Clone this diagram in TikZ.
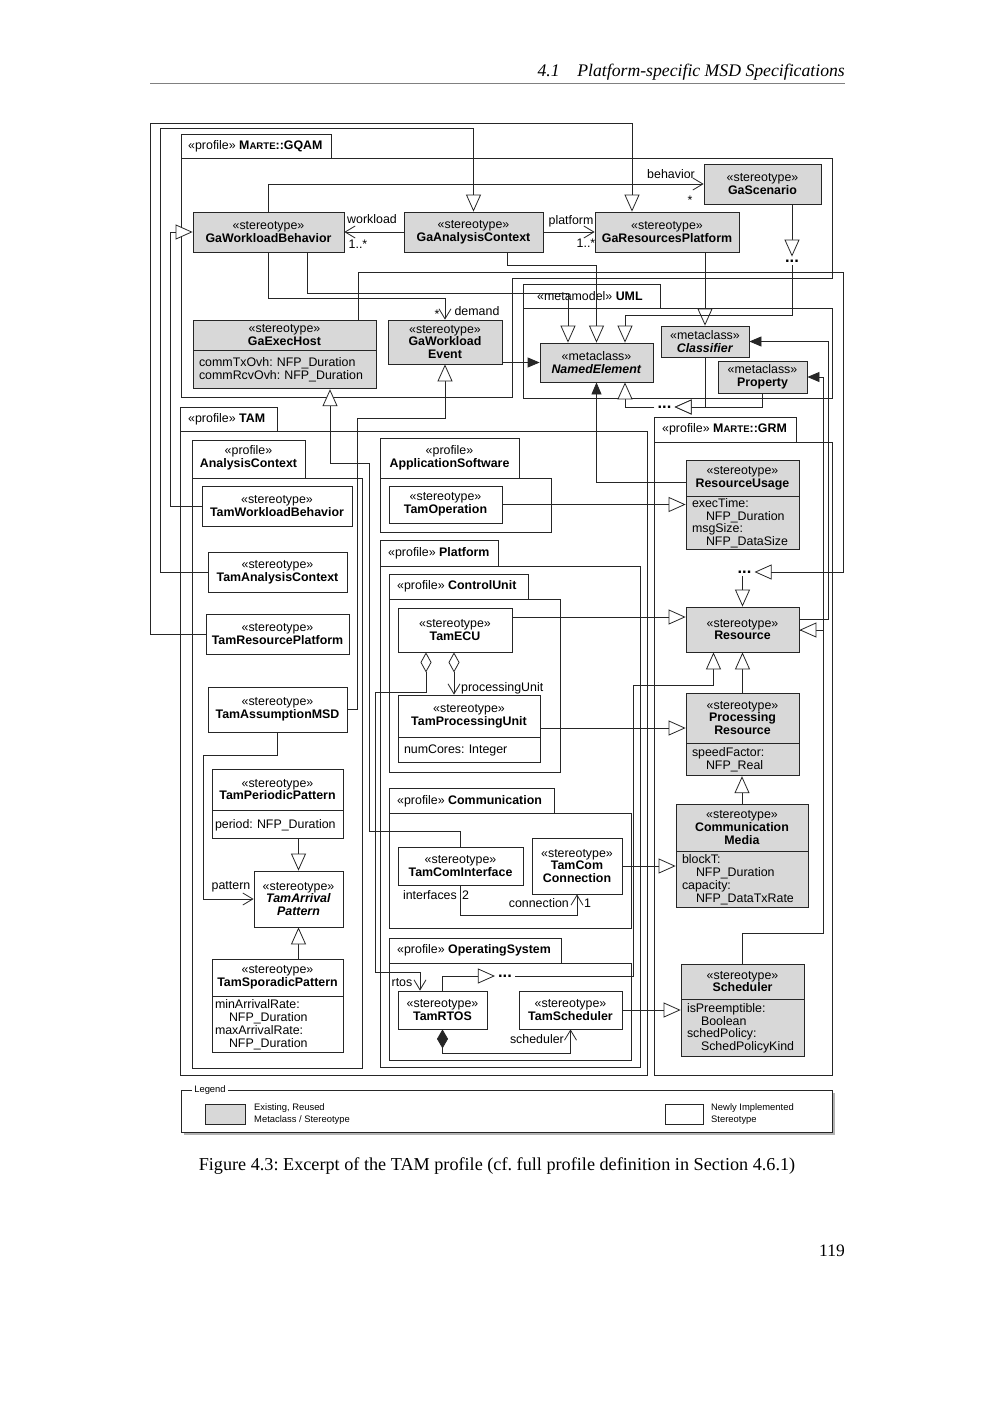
\documentclass[tikz,border=0pt]{standalone}
\usepackage{fontspec}
\setmainfont{Liberation Sans}
\newfontfamily\seriffont{Liberation Serif}
\usetikzlibrary{arrows.meta}
\definecolor{lc}{HTML}{262626}
\definecolor{boxgray}{HTML}{D8D8D8}
\newcommand{\nf}{\fontsize{12.4}{12.8}\selectfont}
\newcommand{\lgf}{\fontsize{9.4}{12}\selectfont}
\newcommand{\stereo}{«stereotype»}
\newcommand{\metac}{«metaclass»}
\newcommand{\prof}{«profile»}
\newcommand{\marte}{M{\fontsize{9.6}{10}\selectfont ARTE}}
\newcommand{\attrind}{\hspace*{14pt}}
\tikzset{
 base/.style={draw=lc, line width=0.8pt, inner sep=0pt, align=center, font=\nf},
 gbox/.style={base, fill=boxgray},
 wbox/.style={base, fill=white},
 attr/.style={draw=lc, line width=0.8pt, inner ysep=0pt, inner xsep=6pt, align=left, font=\nf, anchor=north},
 pkg/.style={draw=lc, line width=0.8pt},
 tabtxt/.style={font=\nf, inner sep=0pt, anchor=west},
 cn/.style={draw=lc, line width=0.8pt},
 gen/.style={cn, -{Triangle[length=17pt,width=15pt,fill=white]}},
 ext/.style={cn, -{Triangle[length=12pt,width=10pt,fill=lc]}},
 nav/.style={cn, -{Straight Barb[length=10pt,width=12pt]}},
 lbl/.style={font=\nf, inner sep=0pt},
 dotn/.style={font=\bfseries\fontsize{16.5}{16}\selectfont, inner sep=3pt},
}
\begin{document}
\frenchspacing
\begin{tikzpicture}[x=1pt,y=-1pt]
\useasboundingbox (0,0) rectangle (1000,1414);
\fill[white] (0,0) rectangle (1000,1414);

% ---------- page header / caption ----------
\node[anchor=base east, inner sep=0pt, font=\seriffont\itshape\fontsize{17.7}{20}\selectfont] (hdr) at (845,76) {4.1\quad Platform-specific MSD Specifications};
\draw[gray, line width=0.8pt] (150,83) -- (845,83);
\node[anchor=base, inner sep=0pt, font=\seriffont\fontsize{18.2}{20}\selectfont] (cap) at (497,1170) {Figure 4.3: Excerpt of the TAM profile (cf.\ full profile definition in Section 4.6.1)};
\node[anchor=base east, inner sep=0pt, font=\seriffont\fontsize{17.5}{20}\selectfont] (pgn) at (845,1256) {119};

% ---------- packages ----------
% GQAM
\draw[pkg] (181,134) rectangle (331,158);
\node[tabtxt] (p-gqam) at (188,146) {\prof\ \textbf{\marte::GQAM}};
\draw[pkg] (181,158) -- (832,158) -- (832,278) -- (512,278) -- (512,397) -- (181,397) -- cycle;
% UML
\draw[pkg] (523,284) rectangle (660,308);
\node[tabtxt] (p-uml) at (537,296) {«metamodel» \textbf{UML}};
\draw[pkg] (523,308) rectangle (832,398);
% TAM
\draw[pkg] (180,407) rectangle (277,431);
\node[tabtxt] (p-tam) at (188,419) {\prof\ \textbf{TAM}};
\draw[pkg] (180,431) rectangle (647,1075);
% AnalysisContext
\draw[pkg] (192,440) rectangle (305,478);
\node[lbl, align=center] (p-ac) at (248.5,458) {\prof\\\textbf{AnalysisContext}};
\draw[pkg] (192,478) rectangle (362,1068);
% ApplicationSoftware
\draw[pkg] (380,438) rectangle (519,478);
\node[lbl, align=center] (p-as) at (449.5,458) {\prof\\\textbf{ApplicationSoftware}};
\draw[pkg] (380,478) rectangle (551,532);
% Platform
\draw[pkg] (380,540) rectangle (498,566);
\node[tabtxt] (p-pl) at (388,553) {\prof\ \textbf{Platform}};
\draw[pkg] (380,566) rectangle (640,1067);
% ControlUnit
\draw[pkg] (389,574) rectangle (528,599);
\node[tabtxt] (p-cu) at (397,586) {\prof\ \textbf{ControlUnit}};
\draw[pkg] (389,599) rectangle (560,772);
% Communication
\draw[pkg] (389,788) rectangle (554,813);
\node[tabtxt] (p-co) at (397,801) {\prof\ \textbf{Communication}};
\draw[pkg] (389,813) rectangle (631,928);
% OperatingSystem
\draw[pkg] (389,938) rectangle (561,963);
\node[tabtxt] (p-os) at (397,950) {\prof\ \textbf{OperatingSystem}};
\draw[pkg] (389,963) rectangle (631,1060);
% GRM
\draw[pkg] (654,417) rectangle (796,442);
\node[tabtxt] (p-grm) at (662,429) {\prof\ \textbf{\marte::GRM}};
\draw[pkg] (654,442) rectangle (832,1075);

% ---------- nodes ----------
% GQAM
\node[gbox, minimum width=151pt, minimum height=40pt] (gwb) at (268.5,232) {\stereo\\\textbf{GaWorkloadBehavior}};
\node[gbox, minimum width=139pt, minimum height=40pt] (gac) at (473.5,232) {\stereo\\\textbf{GaAnalysisContext}};
\node[gbox, minimum width=144pt, minimum height=40pt] (grp) at (667,232) {\stereo\\\textbf{GaResourcesPlatform}};
\node[gbox, minimum width=117pt, minimum height=40pt] (gsc) at (762.5,184) {\stereo\\\textbf{GaScenario}};
\node[gbox, minimum width=183pt, minimum height=30pt] (geh) at (284.5,335) {\stereo\\\textbf{GaExecHost}};
\node[attr, fill=boxgray, minimum width=183pt, minimum height=38pt, text width=171pt] (geh-a) at (geh.south) {\mbox{commTxOvh: NFP\_Duration}\\\mbox{commRcvOvh: NFP\_Duration}};
\node[gbox, minimum width=114pt, minimum height=44pt] (gwe) at (445,342) {\stereo\\\textbf{GaWorkload}\\\textbf{Event}};
% UML
\node[gbox, minimum width=113pt, minimum height=39pt] (ne) at (596.5,362.5) {\metac\\\textbf{\itshape NamedElement}};
\node[gbox, minimum width=88pt, minimum height=31pt] (cf) at (705,341.5) {\metac\\\textbf{\itshape Classifier}};
\node[gbox, minimum width=89pt, minimum height=32pt] (pr) at (762.5,377) {\metac\\\textbf{Property}};
\node[dotn] (d1) at (792,261) {...};
\node[dotn] (d2) at (664.5,407) {...};
% TAM / AnalysisContext
\node[wbox, minimum width=150pt, minimum height=40pt] (twb) at (277,506) {\stereo\\\textbf{TamWorkloadBehavior}};
\node[wbox, minimum width=139pt, minimum height=40pt] (tac) at (277.5,572) {\stereo\\\textbf{TamAnalysisContext}};
\node[wbox, minimum width=143pt, minimum height=40pt] (trp) at (277.5,634) {\stereo\\\textbf{TamResourcePlatform}};
\node[wbox, minimum width=139pt, minimum height=45pt] (tam) at (277.5,709.5) {\stereo\\\textbf{TamAssumptionMSD}};
\node[wbox, minimum width=131pt, minimum height=41pt] (tpp) at (277.5,789.5) {\stereo\\\textbf{TamPeriodicPattern}};
\node[attr, fill=white, inner xsep=3pt, minimum width=131pt, minimum height=28pt, text width=125pt] (tpp-a) at (tpp.south) {\mbox{period: NFP\_Duration}};
\node[wbox, minimum width=89pt, minimum height=56pt] (tap) at (298.5,899) {\stereo\\\textbf{\itshape TamArrival}\\\textbf{\itshape Pattern}};
\node[wbox, minimum width=131pt, minimum height=37pt] (tsp) at (277.5,977.5) {\stereo\\\textbf{TamSporadicPattern}};
\node[attr, fill=white, inner xsep=3pt, minimum width=131pt, minimum height=56pt, text width=125pt] (tsp-a) at (tsp.south) {minArrivalRate:\\\attrind NFP\_Duration\\maxArrivalRate:\\\attrind NFP\_Duration};
% ApplicationSoftware / Platform
\node[wbox, minimum width=113pt, minimum height=37pt] (top) at (445.5,504.5) {\stereo\\\textbf{TamOperation}};
\node[wbox, minimum width=114pt, minimum height=44pt] (tecu) at (455,630) {\stereo\\\textbf{TamECU}};
\node[wbox, minimum width=142pt, minimum height=42pt] (tpu) at (469,716) {\stereo\\\textbf{TamProcessingUnit}};
\node[attr, fill=white, minimum width=142pt, minimum height=25pt, text width=130pt] (tpu-a) at (tpu.south) {numCores: Integer};
\node[wbox, minimum width=125pt, minimum height=38pt] (tci) at (460.5,866) {\stereo\\\textbf{TamComInterface}};
\node[wbox, minimum width=90pt, minimum height=56pt] (tcc) at (577,866) {\stereo\\\textbf{TamCom}\\\textbf{Connection}};
\node[wbox, minimum width=89pt, minimum height=38pt] (trtos) at (442.5,1010) {\stereo\\\textbf{TamRTOS}};
\node[wbox, minimum width=103pt, minimum height=38pt] (tsch) at (570.5,1010) {\stereo\\\textbf{TamScheduler}};
\node[dotn] (d4) at (505,976) {...};
% GRM
\node[gbox, minimum width=113pt, minimum height=36pt] (ru) at (742.5,478) {\stereo\\\textbf{ResourceUsage}};
\node[attr, fill=boxgray, minimum width=113pt, minimum height=53pt, text width=101pt] (ru-a) at (ru.south) {execTime:\\\attrind NFP\_Duration\\msgSize:\\\attrind NFP\_DataSize};
\node[dotn] (d3) at (744.5,572) {...};
\node[gbox, minimum width=113pt, minimum height=45pt] (res) at (742.5,629.5) {\stereo\\\textbf{Resource}};
\node[gbox, minimum width=113pt, minimum height=50pt] (prr) at (742.5,718) {\stereo\\\textbf{Processing}\\\textbf{Resource}};
\node[attr, fill=boxgray, minimum width=113pt, minimum height=32pt, text width=101pt] (prr-a) at (prr.south) {speedFactor:\\\attrind NFP\_Real};
\node[gbox, minimum width=132pt, minimum height=47pt] (cm) at (742,827.5) {\stereo\\\textbf{Communication}\\\textbf{Media}};
\node[attr, fill=boxgray, minimum width=132pt, minimum height=56pt, text width=120pt] (cm-a) at (cm.south) {blockT:\\\attrind NFP\_Duration\\capacity:\\\attrind NFP\_DataTxRate};
\node[gbox, minimum width=123pt, minimum height=35pt] (sch) at (742.5,981.5) {\stereo\\\textbf{Scheduler}};
\node[attr, fill=boxgray, minimum width=123pt, minimum height=57pt, text width=111pt] (sch-a) at (sch.south) {isPreemptible:\\\attrind Boolean\\schedPolicy:\\\attrind SchedPolicyKind};

% ---------- connectors ----------
% TAM stereotypes to GQAM stereotypes
\draw[gen] (trp.west) -| (150,123) -| (632,0 |- grp.north);
\draw[gen] (tac.west) -| (160,128) -| (gac.north);
\draw[gen] (twb.west) -| (170,232) -- (gwb.west);
% associations inside GQAM
\draw[nav] (gwb.north) |- (gsc.west);
\node[lbl] (l-beh) at (671,174) {behavior};
\node[lbl] (l-bst) at (690,200) {*};
\draw[nav] (gac.west) -- (gwb.east);
\node[lbl] (l-wl) at (372,219) {workload};
\node[lbl] (l-wlm) at (358,244) {1..*};
\draw[nav] (gac.east) -- (grp.west);
\node[lbl] (l-pf) at (571,221) {platform};
\node[lbl] (l-pfm) at (586,243) {1..*};
\draw[nav] (gwb.south) -- ++(0,46) -| (gwe.north);
\node[lbl] (l-dm) at (477,311) {demand};
\node[lbl] (l-dms) at (437,314) {*};
% generalisations / extensions to UML
\draw[gen] (307,0 |- gwb.south) -- (307,293) -| (568,0 |- ne.north);
\draw[gen] (507,0 |- gac.south) -- (507,265) -| (ne.north);
\draw[gen] (705,0 |- grp.south) -- (cf.north);
\draw[gen] (792,0 |- gsc.south) -- (d1.north);
\draw[gen] (d1.south) |- (625,315) -- (625,0 |- ne.north);
\draw[ext] (gwe.east |- ne.west) -- (ne.west);
\draw[gen] (358,0 |- geh.north) -- (358,272) -| (843,0 |- d3.east) -- (d3.east);
\draw[gen] (tci.north) -- ++(0,-15) -| (369,463) -| (330,0 |- geh-a.south);
\draw[gen] (tam.east) -| (357,418) -| (gwe.south);
\draw[ext] ([yshift=-4pt]ru.west) -| (ne.south);
\draw[gen] (d2.west) -| ([xshift=28.5pt]ne.south);
\draw[gen] (cf.south) |- (d2.east);
\draw[gen] (pr.south) |- (d2.east);
\draw[ext] ([yshift=10pt]res.east) -| (828,0 |- cf.east) -- (cf.east);
\draw[ext] ([yshift=-0.5pt]res.east) -| (823,0 |- pr.east) -- (pr.east);
% AnalysisContext
\draw[nav] (tam.south) -- ++(0,23) -| (203,0 |- tap.west) -- (tap.west);
\node[lbl] (l-pat) at (231,887) {pattern};
\draw[gen] (tap.north |- tpp-a.south) -- (tap.north);
\draw[gen] (tap.south |- tsp.north) -- (tap.south);
% Platform to GRM
\draw[gen] (top.east) -- (top.east -| ru-a.west);
\draw[gen] ([yshift=13pt]tecu.east) -- ([yshift=13pt]tecu.east -| res.west);
\draw[gen] ([yshift=-12pt]tpu.east) -- ([yshift=-12pt]tpu.east -| prr.west);
\draw[gen] (tcc.east) -- (tcc.east -| cm-a.west);
\draw[gen] (tsch.east) -- (tsch.east -| sch-a.west);
\draw[gen] (trtos.north) |- (d4.west);
\draw[gen] (d4.east) -| (633,685) -| ([xshift=-29pt]res.south);
% inside GRM
\draw[gen] (res.north |- d3.south) -- (res.north);
\draw[gen] (prr.north) -- (res.south);
\draw[gen] (cm.north) -- (cm.north |- prr-a.south);
\draw[gen] (sch.north) |- (823,933) |- ([yshift=-0.5pt]res.east);
% associations in Platform
\draw[cn, {Diamond[length=20pt,width=11pt,fill=white]}-{Straight Barb[length=10pt,width=12pt]}] ([xshift=-29pt]tecu.south) -- ++(0,40) -| (375,972) -| ([xshift=-22.5pt]trtos.north);
\node[lbl] (l-rtos) at (402,983) {rtos};
\draw[cn, {Diamond[length=20pt,width=11pt,fill=white]}-{Straight Barb[length=10pt,width=12pt]}] ([xshift=-1pt]tecu.south) -- ([xshift=-1pt]tecu.south |- tpu.north);
\node[lbl, anchor=west] (l-pu) at (461,688) {processingUnit};
\draw[nav] (tci.south) -- ++(0,30) -| (tcc.south);
\node[lbl, anchor=east] (l-if) at (457,895) {interfaces};
\node[lbl, anchor=west] (l-if2) at (462,895) {2};
\node[lbl, anchor=east] (l-cn) at (569,903) {connection};
\node[lbl, anchor=west] (l-cn1) at (584,903) {1};
\draw[cn, {Diamond[length=19pt,width=11pt,fill=lc]}-{Straight Barb[length=10pt,width=12pt]}] (trtos.south) -- ++(0,24) -| (tsch.south);
\node[lbl, anchor=east] (l-sch) at (564,1039) {scheduler};

% ---------- legend ----------
\fill[black!30] (184,1093) rectangle (835,1135);
\draw[cn, fill=white] (181,1090) rectangle (832,1132);
\node[fill=white, inner xsep=2pt, inner ysep=0pt, font=\lgf] (lg) at (210,1090) {Legend};
\node[draw=lc, line width=0.8pt, fill=boxgray, minimum width=40pt, minimum height=20pt, inner sep=0pt] (lg-g) at (225,1114) {};
\node[anchor=west, align=left, inner sep=0pt, font=\lgf] (lg-gt) at (254,1114) {Existing, Reused\\Metaclass / Stereotype};
\node[draw=lc, line width=0.8pt, fill=white, minimum width=38pt, minimum height=20pt, inner sep=0pt] (lg-w) at (684,1114) {};
\node[anchor=west, align=left, inner sep=0pt, font=\lgf] (lg-wt) at (711,1114) {Newly Implemented\\Stereotype};
\end{tikzpicture}
\end{document}
